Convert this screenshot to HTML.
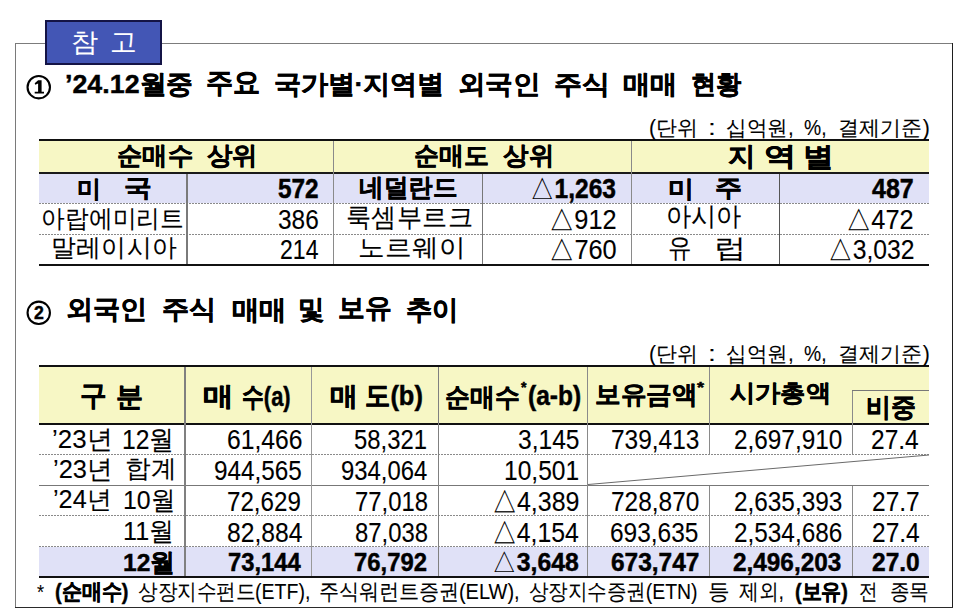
<!DOCTYPE html>
<html lang="ko"><head><meta charset="utf-8"><style>
html,body{margin:0;padding:0;background:#fff;}
body{width:960px;height:616px;position:relative;overflow:hidden;font-family:"Liberation Sans",sans-serif;color:#000;}
.a{position:absolute;}
.t{position:absolute;white-space:nowrap;line-height:1;transform-origin:0 0;-webkit-text-stroke:0.1px currentColor;}
.bd{font-weight:bold;-webkit-text-stroke:0.45px currentColor;}
.tri{font-weight:normal;-webkit-text-stroke:0;}

</style></head><body>
<div class="a" style="left:15px;top:43px;width:938px;height:1px;background:#7c7c7c"></div>
<div class="a" style="left:15px;top:43px;width:1px;height:565px;background:#7a7a7a"></div>
<div class="a" style="left:952px;top:43px;width:1px;height:565px;background:#1e1e1e"></div>
<div class="a" style="left:15px;top:607px;width:938px;height:1px;background:#2a2a2a"></div>
<div class="a" style="left:45px;top:20px;width:113px;height:41px;background:#4356b5;border:2px solid #141446;"></div>
<div class="a" style="left:39px;top:141px;width:890px;height:31px;background:#f7f7c5"></div>
<div class="a" style="left:39px;top:174px;width:890px;height:29px;background:#e0e1f7"></div>
<div class="a" style="left:39px;top:139px;width:890px;height:2px;background:#111"></div>
<div class="a" style="left:39px;top:172px;width:890px;height:2px;background:#1a1a1a"></div>
<div class="a" style="left:39px;top:203px;width:890px;height:1px;background-image:linear-gradient(to right,#8a8a8a 66%,transparent 66%);background-size:3px 1px;"></div>
<div class="a" style="left:39px;top:234px;width:890px;height:1px;background-image:linear-gradient(to right,#8a8a8a 66%,transparent 66%);background-size:3px 1px;"></div>
<div class="a" style="left:39px;top:264px;width:890px;height:2px;background:#111"></div>
<div class="a" style="left:333px;top:141px;width:1px;height:123px;background:#8a8a8a"></div>
<div class="a" style="left:631px;top:141px;width:1px;height:123px;background:#8a8a8a"></div>
<div class="a" style="left:186px;top:174px;width:2px;height:90px;background:#7a7a7a"></div>
<div class="a" style="left:482px;top:174px;width:1px;height:90px;background:#777"></div>
<div class="a" style="left:779px;top:174px;width:1px;height:90px;background:#555"></div>
<div class="a" style="left:39px;top:367px;width:890px;height:56px;background:#f7f7c5"></div>
<div class="a" style="left:39px;top:547px;width:890px;height:29px;background:#e0e1f7"></div>
<div class="a" style="left:39px;top:365px;width:890px;height:2px;background:#111"></div>
<div class="a" style="left:39px;top:423px;width:890px;height:2px;background:#111"></div>
<div class="a" style="left:39px;top:454px;width:890px;height:1px;background-image:linear-gradient(to right,#8a8a8a 66%,transparent 66%);background-size:3px 1px;"></div>
<div class="a" style="left:39px;top:485px;width:890px;height:1px;background:#777"></div>
<div class="a" style="left:39px;top:515px;width:890px;height:1px;background-image:linear-gradient(to right,#8a8a8a 66%,transparent 66%);background-size:3px 1px;"></div>
<div class="a" style="left:39px;top:546px;width:890px;height:1px;background-image:linear-gradient(to right,#8a8a8a 66%,transparent 66%);background-size:3px 1px;"></div>
<div class="a" style="left:39px;top:576px;width:890px;height:2px;background:#111"></div>
<div class="a" style="left:184px;top:367px;width:2px;height:209px;background:#808080"></div>
<div class="a" style="left:311px;top:367px;width:1px;height:209px;background:#999"></div>
<div class="a" style="left:438px;top:367px;width:1px;height:209px;background:#808080"></div>
<div class="a" style="left:587px;top:367px;width:1px;height:209px;background:#8a8a8a"></div>
<div class="a" style="left:709px;top:367px;width:1px;height:88px;background:#8a8a8a"></div>
<div class="a" style="left:709px;top:486px;width:1px;height:90px;background:#8a8a8a"></div>
<div class="a" style="left:852px;top:390px;width:1px;height:65px;background:#8a8a8a"></div>
<div class="a" style="left:852px;top:486px;width:1px;height:90px;background:#8a8a8a"></div>
<div class="a" style="left:852px;top:390px;width:77px;height:1px;background:#777"></div>
<svg class="a" style="left:0;top:0" width="960" height="616"><line x1="588" y1="484.5" x2="929" y2="455" stroke="#6a6a6a" stroke-width="1"/></svg>
<svg class="a" style="left:0;top:0" width="960" height="616"><circle cx="38.75" cy="87.2" r="11.2" fill="none" stroke="#000" stroke-width="2.1"/><circle cx="38.75" cy="312.8" r="11.2" fill="none" stroke="#000" stroke-width="2.1"/><path d="M38.1 80.2 L41.6 80.2 L41.6 91.8 L44 91.8 L44 93.6 L34.7 93.6 L34.7 91.8 L38.1 91.8 L38.1 83.4 L35.3 84.8 L34.7 83.3 Z" fill="#000"/></svg>
<div class="t" style="left:70.61px;top:29.43px;font-size:26px;transform:scale(1.0372,0.9937);color:#fff;">참</div>
<div class="t" style="left:109.91px;top:27.59px;font-size:26px;transform:scale(1.0195,1.0330);color:#fff;">고</div>
<div class="t bd" style="left:33.70px;top:303.08px;font-size:19px;transform:scale(0.9334,0.9938);">2</div>
<div class="t bd" style="left:65.29px;top:72.09px;font-size:27px;transform:scale(0.9932,0.9645);">’24.12월중</div>
<div class="t bd" style="left:206.47px;top:69.57px;font-size:27px;transform:scale(0.9873,1.0212);">주요</div>
<div class="t bd" style="left:274.42px;top:72.35px;font-size:27px;transform:scale(0.9936,0.9507);">국가별·지역별</div>
<div class="t bd" style="left:457.85px;top:72.34px;font-size:27px;transform:scale(1.0101,0.9518);">외국인</div>
<div class="t bd" style="left:553.80px;top:72.24px;font-size:27px;transform:scale(1.0426,0.9716);">주식</div>
<div class="t bd" style="left:622.88px;top:71.57px;font-size:27px;transform:scale(1.0041,0.9573);">매매</div>
<div class="t bd" style="left:690.71px;top:72.08px;font-size:27px;transform:scale(0.9376,0.9675);">현황</div>
<div class="t" style="left:649.36px;top:116.50px;font-size:20px;transform:scale(1.0552,1.0601);">(단위</div>
<div class="t" style="left:708.44px;top:116.50px;font-size:20px;transform:scale(1.4184,1.0601);">:</div>
<div class="t" style="left:726.06px;top:116.50px;font-size:20px;transform:scale(1.0350,1.0601);">십억원,</div>
<div class="t" style="left:804.47px;top:116.50px;font-size:20px;transform:scale(0.9654,1.0601);">%,</div>
<div class="t" style="left:838.12px;top:116.50px;font-size:20px;transform:scale(1.0579,1.0601);">결제기준)</div>
<div class="t bd" style="left:117.40px;top:143.40px;font-size:26px;transform:scale(0.9760,0.9642);">순매수</div>
<div class="t bd" style="left:206.84px;top:143.38px;font-size:26px;transform:scale(0.9782,0.9662);">상위</div>
<div class="t bd" style="left:413.67px;top:143.40px;font-size:26px;transform:scale(0.9608,0.9642);">순매도</div>
<div class="t bd" style="left:502.64px;top:143.38px;font-size:26px;transform:scale(0.9813,0.9664);">상위</div>
<div class="t bd" style="left:727.85px;top:142.92px;font-size:26px;transform:scale(1.0550,1.0020);">지</div>
<div class="t bd" style="left:764.16px;top:143.23px;font-size:26px;transform:scale(1.2270,0.9888);">역</div>
<div class="t bd" style="left:802.73px;top:142.61px;font-size:26px;transform:scale(1.1866,1.0417);">별</div>
<div class="t bd" style="left:76.87px;top:177.05px;font-size:26px;transform:scale(0.9051,0.9047);">미</div>
<div class="t bd" style="left:124.00px;top:175.56px;font-size:26px;transform:scale(1.0663,0.9237);">국</div>
<div class="t bd" style="left:278.15px;top:175.22px;font-size:25px;transform:scale(0.9744,1.0851);">572</div>
<div class="t bd" style="left:358.67px;top:175.18px;font-size:26px;transform:scale(0.9471,0.9659);">네덜란드</div>
<div class="t bd" style="left:530.44px;top:175.22px;font-size:25px;transform:scale(0.9824,1.0851);"><span class="tri">△</span>1,263</div>
<div class="t bd" style="left:667.67px;top:177.05px;font-size:26px;transform:scale(0.9808,0.9040);">미</div>
<div class="t bd" style="left:714.92px;top:176.22px;font-size:26px;transform:scale(1.0425,0.9280);">주</div>
<div class="t bd" style="left:872.00px;top:175.22px;font-size:25px;transform:scale(0.9986,1.0851);">487</div>
<div class="t" style="left:40.87px;top:205.70px;font-size:25px;transform:scale(0.9540,1.0046);">아랍에미리트</div>
<div class="t" style="left:278.11px;top:206.29px;font-size:25px;transform:scale(0.9764,1.0771);">386</div>
<div class="t" style="left:345.61px;top:203.98px;font-size:25px;transform:scale(1.0157,1.0532);">룩셈부르크</div>
<div class="t" style="left:548.81px;top:206.29px;font-size:25px;transform:scale(1.0133,1.0771);">△912</div>
<div class="t" style="left:666.25px;top:204.49px;font-size:25px;transform:scale(0.9944,1.0221);">아시아</div>
<div class="t" style="left:845.81px;top:206.29px;font-size:25px;transform:scale(1.0133,1.0771);">△472</div>
<div class="t" style="left:50.67px;top:234.64px;font-size:25px;transform:scale(1.0086,1.0143);">말레이시아</div>
<div class="t" style="left:279.76px;top:236.30px;font-size:25px;transform:scale(0.9221,1.0767);">214</div>
<div class="t" style="left:357.64px;top:234.67px;font-size:25px;transform:scale(1.0808,1.0179);">노르웨이</div>
<div class="t" style="left:548.88px;top:236.30px;font-size:25px;transform:scale(1.0154,1.0767);">△760</div>
<div class="t" style="left:667.58px;top:234.18px;font-size:25px;transform:scale(0.9406,1.0783);">유</div>
<div class="t" style="left:713.90px;top:235.17px;font-size:25px;transform:scale(1.2906,1.0406);">럽</div>
<div class="t" style="left:827.84px;top:236.30px;font-size:25px;transform:scale(0.9884,1.0767);">△3,032</div>
<div class="t bd" style="left:65.68px;top:296.96px;font-size:27px;transform:scale(0.9973,0.9552);">외국인</div>
<div class="t bd" style="left:162.03px;top:297.20px;font-size:27px;transform:scale(0.9976,0.9573);">주식</div>
<div class="t bd" style="left:231.87px;top:296.68px;font-size:27px;transform:scale(1.0013,0.9859);">매매</div>
<div class="t bd" style="left:298.08px;top:297.17px;font-size:27px;transform:scale(0.9848,0.9710);">및</div>
<div class="t bd" style="left:338.13px;top:295.49px;font-size:27px;transform:scale(0.9928,1.0032);">보유</div>
<div class="t bd" style="left:406.20px;top:296.68px;font-size:27px;transform:scale(0.9607,0.9859);">추이</div>
<div class="t" style="left:649.36px;top:342.50px;font-size:20px;transform:scale(1.0552,1.0601);">(단위</div>
<div class="t" style="left:708.44px;top:342.50px;font-size:20px;transform:scale(1.4184,1.0601);">:</div>
<div class="t" style="left:726.06px;top:342.50px;font-size:20px;transform:scale(1.0350,1.0601);">십억원,</div>
<div class="t" style="left:804.47px;top:342.50px;font-size:20px;transform:scale(0.9654,1.0601);">%,</div>
<div class="t" style="left:838.12px;top:342.50px;font-size:20px;transform:scale(1.0579,1.0601);">결제기준)</div>
<div class="t bd" style="left:80.10px;top:381.68px;font-size:26px;transform:scale(1.0078,1.0573);">구</div>
<div class="t bd" style="left:116.27px;top:382.53px;font-size:26px;transform:scale(1.0439,1.0428);">분</div>
<div class="t bd" style="left:202.55px;top:382.76px;font-size:26px;transform:scale(1.1911,1.0107);">매</div>
<div class="t bd" style="left:242.29px;top:383.43px;font-size:26px;transform:scale(0.8406,1.0422);">수(a)</div>
<div class="t bd" style="left:330.45px;top:382.73px;font-size:26px;transform:scale(1.0890,1.0116);">매</div>
<div class="t bd" style="left:364.61px;top:380.60px;font-size:26px;transform:scale(0.9771,1.0876);">도(b)</div>
<div class="t bd" style="left:444.79px;top:383.73px;font-size:26px;transform:scale(0.9591,1.0034);">순매수</div>
<div class="t bd" style="left:521.27px;top:380.49px;font-size:13px;transform:scale(1.0911,1.1200);">*</div>
<div class="t bd" style="left:528.00px;top:380.60px;font-size:26px;transform:scale(0.9424,1.0876);">(a-b)</div>
<div class="t bd" style="left:594.54px;top:381.61px;font-size:26px;transform:scale(0.9896,0.9674);">보유금액</div>
<div class="t bd" style="left:696.51px;top:380.24px;font-size:13px;transform:scale(1.3912,1.1200);">*</div>
<div class="t bd" style="left:730.34px;top:380.82px;font-size:26px;transform:scale(0.9706,0.9219);">시가총액</div>
<div class="t bd" style="left:866.35px;top:394.23px;font-size:26px;transform:scale(0.9594,0.9990);">비중</div>
<div class="t" style="left:51.88px;top:426.11px;font-size:25px;transform:scale(1.0350,1.0423);">’23년</div>
<div class="t" style="left:122.43px;top:426.00px;font-size:25px;transform:scale(0.9889,1.0744);">12월</div>
<div class="t" style="left:226.61px;top:426.02px;font-size:25px;transform:scale(0.9885,1.0861);">61,466</div>
<div class="t" style="left:354.13px;top:426.02px;font-size:25px;transform:scale(0.9537,1.0861);">58,321</div>
<div class="t" style="left:517.87px;top:426.02px;font-size:25px;transform:scale(0.9825,1.0861);">3,145</div>
<div class="t" style="left:610.70px;top:426.02px;font-size:25px;transform:scale(0.9784,1.0861);">739,413</div>
<div class="t" style="left:733.95px;top:426.02px;font-size:25px;transform:scale(0.9732,1.0861);">2,697,910</div>
<div class="t" style="left:871.34px;top:426.02px;font-size:25px;transform:scale(0.9806,1.0861);">27.4</div>
<div class="t" style="left:53.28px;top:455.81px;font-size:25px;transform:scale(1.0161,1.0333);">’23년</div>
<div class="t" style="left:124.59px;top:456.19px;font-size:25px;transform:scale(1.0333,1.0061);">합계</div>
<div class="t" style="left:213.50px;top:457.22px;font-size:25px;transform:scale(0.9718,1.1093);">944,565</div>
<div class="t" style="left:341.04px;top:457.22px;font-size:25px;transform:scale(0.9537,1.1093);">934,064</div>
<div class="t" style="left:503.70px;top:457.22px;font-size:25px;transform:scale(0.9825,1.1093);">10,501</div>
<div class="t" style="left:53.31px;top:487.43px;font-size:25px;transform:scale(1.0090,1.0173);">’24년</div>
<div class="t" style="left:122.64px;top:487.20px;font-size:25px;transform:scale(0.9937,1.0556);">10월</div>
<div class="t" style="left:226.78px;top:488.11px;font-size:25px;transform:scale(0.9656,1.1024);">72,629</div>
<div class="t" style="left:354.57px;top:488.11px;font-size:25px;transform:scale(0.9537,1.1024);">77,018</div>
<div class="t" style="left:491.84px;top:488.11px;font-size:25px;transform:scale(0.9985,1.1024);">△4,389</div>
<div class="t" style="left:611.00px;top:488.11px;font-size:25px;transform:scale(0.9784,1.1024);">728,870</div>
<div class="t" style="left:733.83px;top:488.11px;font-size:25px;transform:scale(0.9732,1.1024);">2,635,393</div>
<div class="t" style="left:872.46px;top:488.11px;font-size:25px;transform:scale(0.9806,1.1024);">27.7</div>
<div class="t" style="left:123.29px;top:517.84px;font-size:25px;transform:scale(1.0083,1.0521);">11월</div>
<div class="t" style="left:226.70px;top:518.77px;font-size:25px;transform:scale(0.9885,1.1024);">82,884</div>
<div class="t" style="left:354.57px;top:518.77px;font-size:25px;transform:scale(0.9537,1.1024);">87,038</div>
<div class="t" style="left:491.92px;top:518.77px;font-size:25px;transform:scale(0.9923,1.1024);">△4,154</div>
<div class="t" style="left:610.49px;top:518.77px;font-size:25px;transform:scale(0.9784,1.1024);">693,635</div>
<div class="t" style="left:733.77px;top:518.77px;font-size:25px;transform:scale(0.9732,1.1024);">2,534,686</div>
<div class="t" style="left:872.01px;top:518.77px;font-size:25px;transform:scale(0.9806,1.1024);">27.4</div>
<div class="t bd" style="left:122.52px;top:549.72px;font-size:25px;transform:scale(0.9828,0.9887);">12월</div>
<div class="t bd" style="left:228.07px;top:549.44px;font-size:25px;transform:scale(0.9516,1.0508);">73,144</div>
<div class="t bd" style="left:353.89px;top:549.44px;font-size:25px;transform:scale(0.9537,1.0508);">76,792</div>
<div class="t bd" style="left:492.39px;top:549.44px;font-size:25px;transform:scale(0.9920,1.0508);"><span class="tri">△</span>3,648</div>
<div class="t bd" style="left:610.61px;top:549.44px;font-size:25px;transform:scale(0.9784,1.0508);">673,747</div>
<div class="t bd" style="left:733.33px;top:549.44px;font-size:25px;transform:scale(0.9732,1.0508);">2,496,203</div>
<div class="t bd" style="left:871.61px;top:549.44px;font-size:25px;transform:scale(0.9806,1.0508);">27.0</div>
<div class="t" style="left:36.51px;top:580.91px;font-size:20px;transform:scale(0.9083,1.0436);">*</div>
<div class="t bd" style="left:55.36px;top:581.22px;font-size:22px;transform:scale(0.9109,0.9940);">(순매수)</div>
<div class="t" style="left:138.02px;top:581.22px;font-size:22px;transform:scale(0.8868,0.9940);">상장지수펀드(ETF),</div>
<div class="t" style="left:319.14px;top:581.22px;font-size:22px;transform:scale(0.9086,0.9940);">주식워런트증권(ELW),</div>
<div class="t" style="left:529.03px;top:581.22px;font-size:22px;transform:scale(0.8843,0.9940);">상장지수증권(ETN)</div>
<div class="t" style="left:708.29px;top:581.22px;font-size:22px;transform:scale(0.9764,0.9940);">등</div>
<div class="t" style="left:739.11px;top:581.22px;font-size:22px;transform:scale(0.8954,0.9940);">제외,</div>
<div class="t bd" style="left:795.07px;top:581.22px;font-size:22px;transform:scale(0.9025,0.9940);">(보유)</div>
<div class="t" style="left:859.01px;top:581.22px;font-size:22px;transform:scale(0.8435,0.9940);">전</div>
<div class="t" style="left:889.74px;top:581.22px;font-size:22px;transform:scale(0.8860,0.9940);">종목</div>
</body></html>
